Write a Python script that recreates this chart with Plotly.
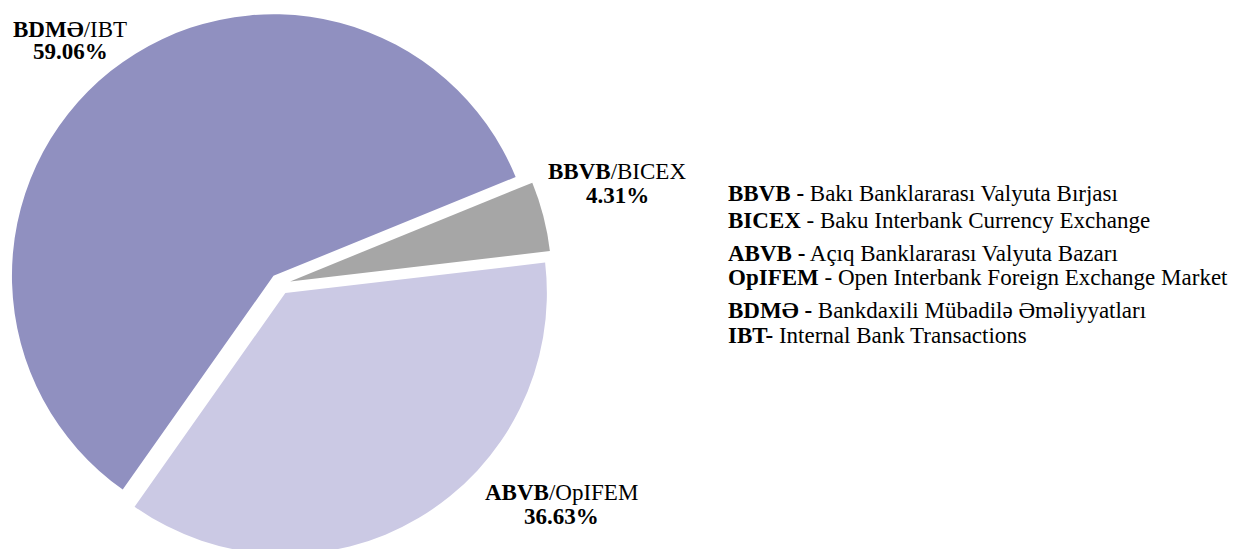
import plotly.graph_objects as go

# ---- data ----
categories_bold = ["BDMƏ", "BBVB", "ABVB"]
categories_rest = ["IBT", "BICEX", "OpIFEM"]
values = [59.06, 4.31, 36.63]
colors = ["#9090C0", "#A6A6A6", "#CBC9E4"]

legend_bold = ["BBVB -", "BICEX", "ABVB -", "OpIFEM", "BDMƏ -", "IBT-"]
legend_rest = [" Bakı Banklararası Valyuta Bırjası",
               " - Baku Interbank Currency Exchange",
               " Açıq Banklararası Valyuta Bazarı",
               " - Open Interbank Foreign Exchange Market",
               " Bankdaxili Mübadilə Əməliyyatları",
               " Internal Bank Transactions"]

W, H = 1246, 549
OFF = 8  # page offset of the plot div
FONT = "Liberation Serif, Times New Roman, serif"
FS = 23

def px(x):
    return (x - OFF) / W

def py(y):
    return 1 - (y - OFF) / H

# pie centre in page pixels and half size of its domain box
cx, cy = 280, 284
half = cx - OFF

fig = go.Figure(go.Pie(
    labels=[b + "/" + r for b, r in zip(categories_bold, categories_rest)],
    values=values,
    sort=False,
    direction="clockwise",
    rotation=215.2,
    pull=[0.04, 0.04, 0.04],
    marker=dict(colors=colors, line=dict(width=0)),
    textinfo="none",
    hoverinfo="label+percent",
    domain=dict(x=[px(cx - half), px(cx + half)], y=[py(cy + half), py(cy - half)]),
    showlegend=False,
))

# slice labels: (centre x, first line y, second line y) in page pixels
label_pos = [(70, 29, 51), (617, 172, 195), (561, 493, 516)]
annotations = []
for b, r, v, (lx, ly1, ly2) in zip(categories_bold, categories_rest, values, label_pos):
    annotations.append(dict(
        x=px(lx), y=py(ly1), xref="paper", yref="paper",
        text=f"<b>{b}</b>/{r}",
        showarrow=False, xanchor="center", yanchor="middle",
        font=dict(family=FONT, size=FS, color="black"),
    ))
    annotations.append(dict(
        x=px(lx), y=py(ly2), xref="paper", yref="paper",
        text=f"<b>{v:.2f}%</b>",
        showarrow=False, xanchor="center", yanchor="middle",
        font=dict(family=FONT, size=FS, color="black"),
    ))

legend_y = [194, 220, 253, 277, 310, 335]
for b, r, ly in zip(legend_bold, legend_rest, legend_y):
    annotations.append(dict(
        x=px(726), y=py(ly), xref="paper", yref="paper",
        text=f"<b>{b}</b>{r}",
        showarrow=False, xanchor="left", yanchor="middle",
        font=dict(family=FONT, size=FS, color="black"), align="left",
    ))

fig.update_layout(
    width=W, height=H,
    margin=dict(l=0, r=0, t=0, b=0),
    paper_bgcolor="white", plot_bgcolor="white",
    annotations=annotations,
)

fig.write_html("out.html")
